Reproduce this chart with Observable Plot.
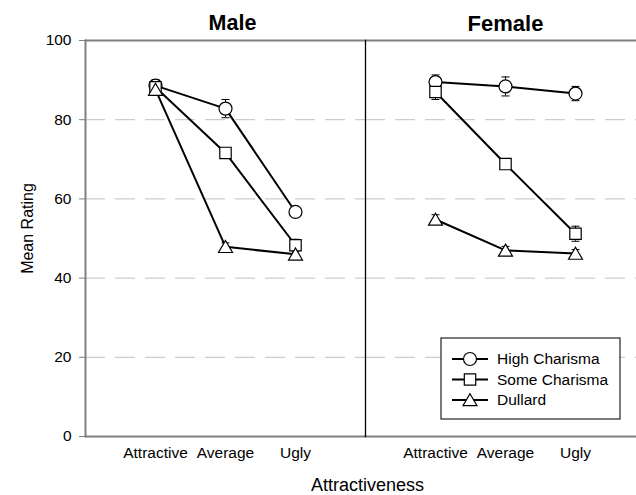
<!DOCTYPE html>
<html><head><meta charset="utf-8">
<script src="https://cdn.jsdelivr.net/npm/d3@7"></script>
<script src="https://cdn.jsdelivr.net/npm/@observablehq/plot@0.6"></script>
<style>
html,body{margin:0;padding:0;background:#fff;overflow:hidden;}
#chart{width:636px;height:495px;overflow:hidden;}
</style></head><body><div id="chart"></div>
<script>
const genders = ["Male", "Female"];
const levels = ["Attractive", "Average", "Ugly"];
const series = ["High Charisma", "Some Charisma", "Dullard"];
const yTicks = [0, 20, 40, 60, 80, 100];
const gridTicks = [20, 40, 60, 80];

// means
const maleHigh = [88.6, 82.8, 56.7];
const maleSome = [88.2, 71.6, 48.3];
const maleDullard = [87.6, 47.9, 46.0];
const femaleHigh = [89.5, 88.4, 86.6];
const femaleSome = [87.0, 68.8, 51.2];
const femaleDullard = [54.8, 47.0, 46.2];
// standard errors
const maleHighSE = [1.5, 2.3, 1.2];
const maleSomeSE = [1.5, 1.2, 1.5];
const maleDullardSE = [1.3, 1.0, 1.0];
const femaleHighSE = [1.8, 2.4, 1.8];
const femaleSomeSE = [1.9, 1.0, 1.9];
const femaleDullardSE = [1.2, 1.0, 1.0];

const meanTable = {Male: [maleHigh, maleSome, maleDullard], Female: [femaleHigh, femaleSome, femaleDullard]};
const seTable = {Male: [maleHighSE, maleSomeSE, maleDullardSE], Female: [femaleHighSE, femaleSomeSE, femaleDullardSE]};

const rows = [];
genders.forEach(g => series.forEach((s, si) => levels.forEach((l, li) => {
  rows.push({gender: g, series: s, level: l, mean: meanTable[g][si][li], se: seTable[g][si][li]});
})));

const font = "'Liberation Sans', Arial, Helvetica, sans-serif";

const circleSym = {draw(ctx) { ctx.moveTo(6.5, 0); ctx.arc(0, 0, 6.5, 0, 2 * Math.PI); ctx.closePath(); }};
const squareSym = {draw(ctx) { ctx.rect(-5.7, -5.7, 11.4, 11.4); }};
const triangleSym = {draw(ctx) { ctx.moveTo(0, -6.3); ctx.lineTo(7, 5.7); ctx.lineTo(-7, 5.7); ctx.closePath(); }};
const capSym = {draw(ctx) { ctx.moveTo(-4, 0); ctx.lineTo(4, 0); }};
const symbols = [circleSym, squareSym, triangleSym];

const dotMarks = series.map((s, i) => Plot.dot(rows.filter(d => d.series === s), {
  fx: "gender", x: "level", y: "mean", symbol: symbols[i], fill: "white", stroke: "black", strokeWidth: 1.2
}));

const svg = Plot.plot({
  width: 645,
  height: 495,
  marginLeft: 85,
  marginRight: 0,
  marginTop: 40,
  marginBottom: 59,
  style: {fontFamily: font, maxWidth: "none", background: "white", color: "black"},
  fx: {domain: genders, padding: 0, axis: null},
  x: {type: "point", domain: levels, padding: 1, axis: null},
  y: {domain: [0, 100], axis: null},
  marks: [
    Plot.gridY(gridTicks, {stroke: "#c0c0c0", strokeOpacity: 1, strokeWidth: 1, strokeDasharray: "20,10"}),
    Plot.ruleY([0, 100], {stroke: "#808080", strokeWidth: 2}),
    Plot.frame({anchor: "left", facetAnchor: "right", stroke: "black", strokeWidth: 1.3}),
    Plot.frame({anchor: "left", facetAnchor: "left", stroke: "#808080", strokeWidth: 2}),
    Plot.axisY({ticks: yTicks, tickSize: 6, tickPadding: 8, fontSize: 15.5, stroke: "#808080", fill: "black", label: null, facetAnchor: "left", tickFormat: d => String(d)}),
    Plot.axisX({tickSize: 0, tickPadding: 10, fontSize: 15.5, fill: "black", label: null}),
    Plot.text(["Male"], {fx: d => d, text: d => d, frameAnchor: "top", lineAnchor: "middle", dx: 7, dy: -17, fontSize: 21.5, fontWeight: "bold"}),
    Plot.text(["Female"], {fx: d => d, text: d => d, frameAnchor: "top", lineAnchor: "middle", dy: -17, fontSize: 22, fontWeight: "bold"}),
    Plot.text(["Mean Rating"], {text: d => d, frameAnchor: "left", textAnchor: "middle", lineAnchor: "middle", rotate: -90, dx: -57.5, dy: -10, fontSize: 16, facetAnchor: "left"}),
    Plot.text(["Attractiveness"], {text: d => d, frameAnchor: "bottom-right", textAnchor: "middle", lineAnchor: "middle", dx: 2, dy: 49, fontSize: 18, facetAnchor: "left"}),
    Plot.ruleX(rows, {fx: "gender", x: "level", y1: d => d.mean - d.se, y2: d => d.mean + d.se, stroke: "black", strokeWidth: 1}),
    Plot.dot(rows, {fx: "gender", x: "level", y: d => d.mean + d.se, symbol: capSym, stroke: "black", strokeWidth: 1}),
    Plot.dot(rows, {fx: "gender", x: "level", y: d => d.mean - d.se, symbol: capSym, stroke: "black", strokeWidth: 1}),
    Plot.line(rows, {fx: "gender", x: "level", y: "mean", z: "series", stroke: "black", strokeWidth: 2}),
    ...dotMarks
  ]
});

// legend inside the Female panel
const lg = d3.select(svg).append("g").attr("font-family", font).attr("text-anchor", "start");
lg.append("rect").attr("x", 441).attr("y", 338).attr("width", 179).attr("height", 81)
  .attr("fill", "white").attr("stroke", "#333").attr("stroke-width", 1.3);
series.forEach((s, i) => {
  const y = 359 + i * 20.5;
  lg.append("line").attr("x1", 452).attr("x2", 488).attr("y1", y).attr("y2", y).attr("stroke", "black").attr("stroke-width", 2);
  const p = d3.path(); symbols[i].draw(p);
  lg.append("path").attr("d", p.toString()).attr("transform", `translate(470,${y})`)
    .attr("fill", "white").attr("stroke", "black").attr("stroke-width", 1.2);
  lg.append("text").attr("x", 497).attr("y", y).attr("dy", "0.35em").attr("font-size", 15.5)
    .attr("text-anchor", "start").attr("fill", "black").text(s);
});

document.getElementById("chart").appendChild(svg);
</script></body></html>
